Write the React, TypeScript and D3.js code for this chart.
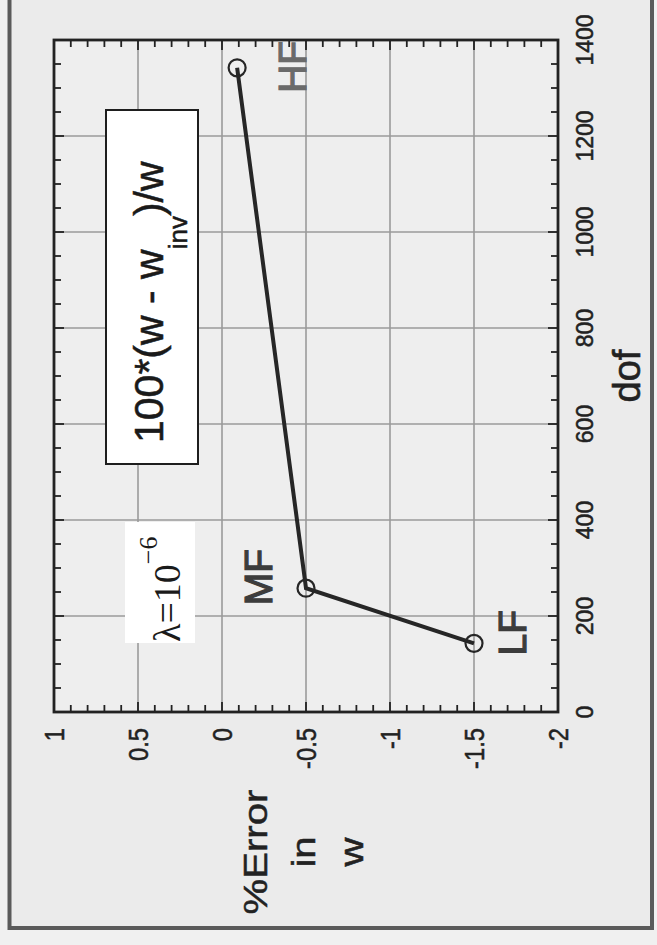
import React from "react";
import * as d3 from "d3";

// ---- data ----
const dofValues = [143, 258, 1342];
const errorValues = [-1.5, -0.5, -0.09];
const pointNames = ["LF", "MF", "HF"];
const dofTicks = [0, 200, 400, 600, 800, 1000, 1200, 1400];
const errTicks = [1, 0.5, 0, -0.5, -1, -1.5, -2];
const errTickLabels = ["1", "0.5", "0", "-0.5", "-1", "-1.5", "-2"];
const xLabel = "dof";
const yLabelLines = ["%Error", "in", "w"];

// ---- layout (unrotated frame) ----
const W = 672;
const H = 504;
const ORIGIN_X = 54;
const ORIGIN_Y = 712;
const labelOffsets: [number, number][] = [
  [-12, 52],
  [-17, -34],
  [-25, 69],
];
const labelColors = ["#3c3c3c", "#3c3c3c", "#6a6a6a"];

export default function App() {
  const x = d3.scaleLinear().domain([0, 1400]).range([0, W]);
  const y = d3.scaleLinear().domain([-2, 1]).range([H, 0]);

  const minorDof = d3.range(0, 1401, 50);
  const minorErr = d3.range(-20, 11, 1).map((d) => d / 10);

  const line = d3
    .line<number>()
    .x((_, i) => x(dofValues[i]))
    .y((d) => y(d));

  const sans = "'Liberation Sans', Arial, Helvetica, sans-serif";
  const serif = "'Liberation Serif', 'Times New Roman', serif";

  return (
    <svg
      width={657}
      height={945}
      style={{ position: "absolute", left: 0, top: 0, display: "block" }}
    >
      <rect x={0} y={0} width={657} height={945} fill="#f0f0f0" />
      <rect x={9.5} y={-10} width={642.5} height={938} fill="#ebebeb" stroke="#5a5a5a" strokeWidth={4} />
      <g transform={`translate(${ORIGIN_X},${ORIGIN_Y}) rotate(-90)`}>
        {/* plot background */}
        <rect x={0} y={0} width={W} height={H} fill="#eeeeee" />
        {/* grid */}
        {dofTicks.slice(1, -1).map((d) => (
          <line key={"gx" + d} x1={x(d)} x2={x(d)} y1={0} y2={H} stroke="#9a9a9a" strokeWidth={1.6} />
        ))}
        {errTicks.slice(1, -1).map((d) => (
          <line key={"gy" + d} x1={0} x2={W} y1={y(d)} y2={y(d)} stroke="#9a9a9a" strokeWidth={1.6} />
        ))}
        {/* white boxes */}
        <rect x={69} y={71} width={121} height={70} fill="#ffffff" />
        <rect x={248} y={52} width={354} height={92} fill="#ffffff" stroke="#1e1e1e" strokeWidth={2} />
        {/* ticks */}
        {minorDof.map((d) => {
          const len = d % 200 === 0 ? 10 : 7;
          return (
            <g key={"tx" + d}>
              <line x1={x(d)} x2={x(d)} y1={H} y2={H - len} stroke="#222" strokeWidth={1.8} />
              <line x1={x(d)} x2={x(d)} y1={0} y2={len} stroke="#222" strokeWidth={1.8} />
            </g>
          );
        })}
        {minorErr.map((d) => {
          const len = Math.abs(Math.round(d * 10)) % 5 === 0 ? 10 : 7;
          return (
            <g key={"ty" + d}>
              <line x1={0} x2={len} y1={y(d)} y2={y(d)} stroke="#222" strokeWidth={1.8} />
              <line x1={W} x2={W - len} y1={y(d)} y2={y(d)} stroke="#222" strokeWidth={1.8} />
            </g>
          );
        })}
        {/* frame */}
        <rect x={0} y={0} width={W} height={H} fill="none" stroke="#222" strokeWidth={2.8} />
        {/* data */}
        <path d={line(errorValues) || ""} fill="none" stroke="#262626" strokeWidth={4} />
        {errorValues.map((v, i) => (
          <circle key={"c" + i} cx={x(dofValues[i])} cy={y(v)} r={8.5} fill="none" stroke="#262626" strokeWidth={2.2} />
        ))}
        {pointNames.map((n, i) => (
          <text
            key={"pl" + n}
            x={x(dofValues[i]) + labelOffsets[i][0]}
            y={y(errorValues[i]) + labelOffsets[i][1]}
            fontFamily={sans}
            fontSize={39}
            fill={labelColors[i]}
            stroke={labelColors[i]}
            strokeWidth={1.2}
          >
            {n}
          </text>
        ))}
        {/* dof tick labels */}
        {dofTicks.map((d) => (
          <text key={"xl" + d} x={x(d)} y={539} textAnchor="middle" fontFamily={sans} fontSize={23} fill="#222" stroke="#222" strokeWidth={0.5}>
            {d}
          </text>
        ))}
        {/* error tick labels */}
        {errTicks.map((d, i) => (
          <text
            key={"yl" + d}
            transform={`translate(-16,${y(d)}) scale(0.88,1)`}
            textAnchor="end"
            dominantBaseline="central"
            fontFamily={sans}
            fontSize={27}
            fill="#222"
            stroke="#222"
            strokeWidth={0.5}
          >
            {errTickLabels[i]}
          </text>
        ))}
        {/* axis labels */}
        <text x={W / 2} y={586} textAnchor="middle" fontFamily={sans} fontSize={38} fill="#222" stroke="#222" strokeWidth={0.6}>
          {xLabel}
        </text>
        {yLabelLines.map((t, i) => (
          <text
            key={"ylab" + i}
            transform={`translate(-140,${213 + i * 48}) scale(1.18,1)`}
            textAnchor="middle"
            fontFamily={sans}
            fontSize={34}
            fill="#222"
            stroke="#222"
            strokeWidth={0.5}
          >
            {t}
          </text>
        ))}
        {/* annotations */}
        <text x={269} y={109} fontFamily={sans} fontSize={41} fill="#1a1a1a" stroke="#1a1a1a" strokeWidth={0.5} style={{ whiteSpace: "pre" }}>
          {"100*(w - w"}
          <tspan dy={24} fontSize={26}>inv</tspan>
          <tspan dy={-24} fontSize={41}>{")/w"}</tspan>
        </text>
        <text x={70} y={126} fontFamily={serif} fontSize={38} fill="#1a1a1a">
          {"λ=10"}
          <tspan dy={-23} fontSize={26}>{"−6"}</tspan>
        </text>
      </g>
    </svg>
  );
}
